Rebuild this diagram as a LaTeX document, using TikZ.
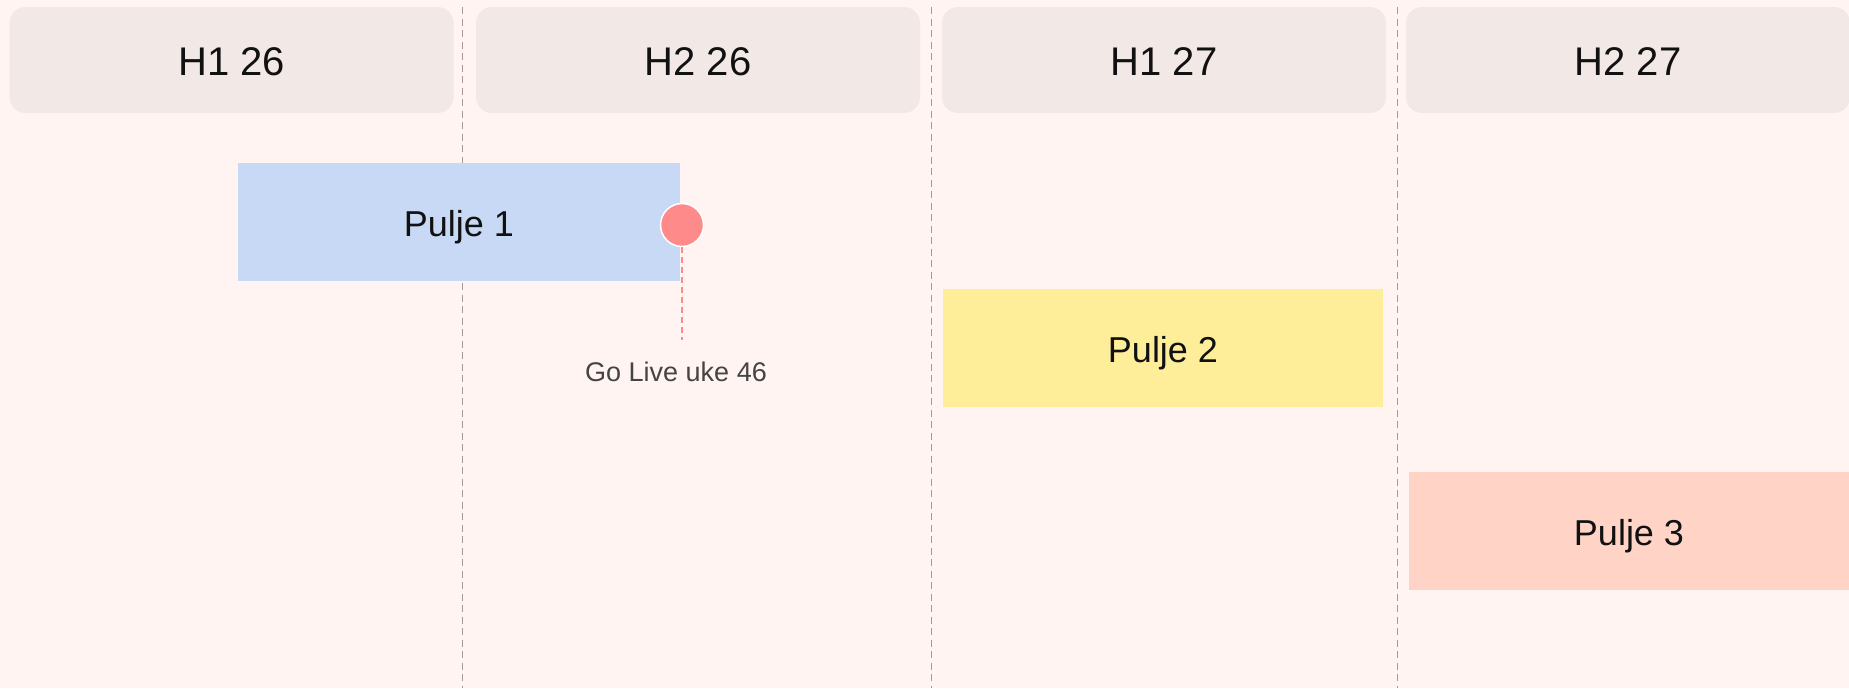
\documentclass[tikz,border=0pt]{standalone}
\usepackage{fontspec}
\setmainfont{Liberation Sans}
\definecolor{bg}{HTML}{FFF4F1}
\definecolor{hdr}{HTML}{F2E8E5}
\definecolor{sep}{HTML}{A89898}
\definecolor{pone}{HTML}{C8D9F5}
\definecolor{ptwo}{HTML}{FFEE99}
\definecolor{pthree}{HTML}{FFD4C7}
\definecolor{mile}{HTML}{FF8A8A}
\definecolor{txt}{HTML}{111111}
\definecolor{sub}{HTML}{444444}
\newcommand{\lowered}[2]{\raisebox{-#1}[\height][\depth]{#2}}
\begin{document}
\begin{tikzpicture}[x=1pt,y=-1pt,
  hdrbox/.style={fill=hdr,rounded corners=16pt,minimum width=444pt,minimum height=106pt,inner sep=0pt,font=\fontsize{40}{48}\selectfont,text=txt},
  bar/.style={minimum height=118pt,inner sep=0pt,font=\fontsize{36}{44}\selectfont,text=txt},
  sepline/.style={draw=sep,line width=1.8pt,dash pattern=on 7pt off 4.5pt},
  milestone/.style={circle,fill=mile,draw=white,line width=1.5pt,minimum size=43pt,inner sep=0pt},
  mileline/.style={draw=mile,line width=2pt,dash pattern=on 6pt off 4pt}]
\fill[bg] (0,0) rectangle (1849,688);
\useasboundingbox (0,0) rectangle (1849,688);
% separators
\foreach \n/\x in {a/462.5,b/931.5,c/1397.5}{
  \coordinate (\n top) at (\x,7);
  \coordinate (\n bot) at (\x,688);
  \draw[sepline] (\n top) -- (\n bot);
}
% headers
\node[hdrbox] (h1) at (231.5,60) {\lowered{2pt}{H1 26}};
\node[hdrbox] (h2) at (698,60) {\lowered{2pt}{H2 26}};
\node[hdrbox] (h3) at (1164,60) {\lowered{2pt}{H1 27}};
\node[hdrbox] (h4) at (1628,60) {\lowered{2pt}{H2 27}};
% bars
\node[bar,fill=pone,minimum width=442pt] (p1) at (459,222) {\lowered{5pt}{Pulje 1}};
\node[bar,fill=ptwo,minimum width=440pt] (p2) at (1163,348) {\lowered{5pt}{Pulje 2}};
\node[bar,fill=pthree,minimum width=440pt] (p3) at (1629,531) {\lowered{5pt}{Pulje 3}};
% milestone
\node[milestone] (ms) at (682,225) {};
\coordinate (msend) at (682,340);
\draw[mileline] (ms.south) -- (msend);
\node[font=\fontsize{27}{32}\selectfont,text=sub] (gl) at (676,372) {Go Live uke 46};
\end{tikzpicture}
\end{document}
